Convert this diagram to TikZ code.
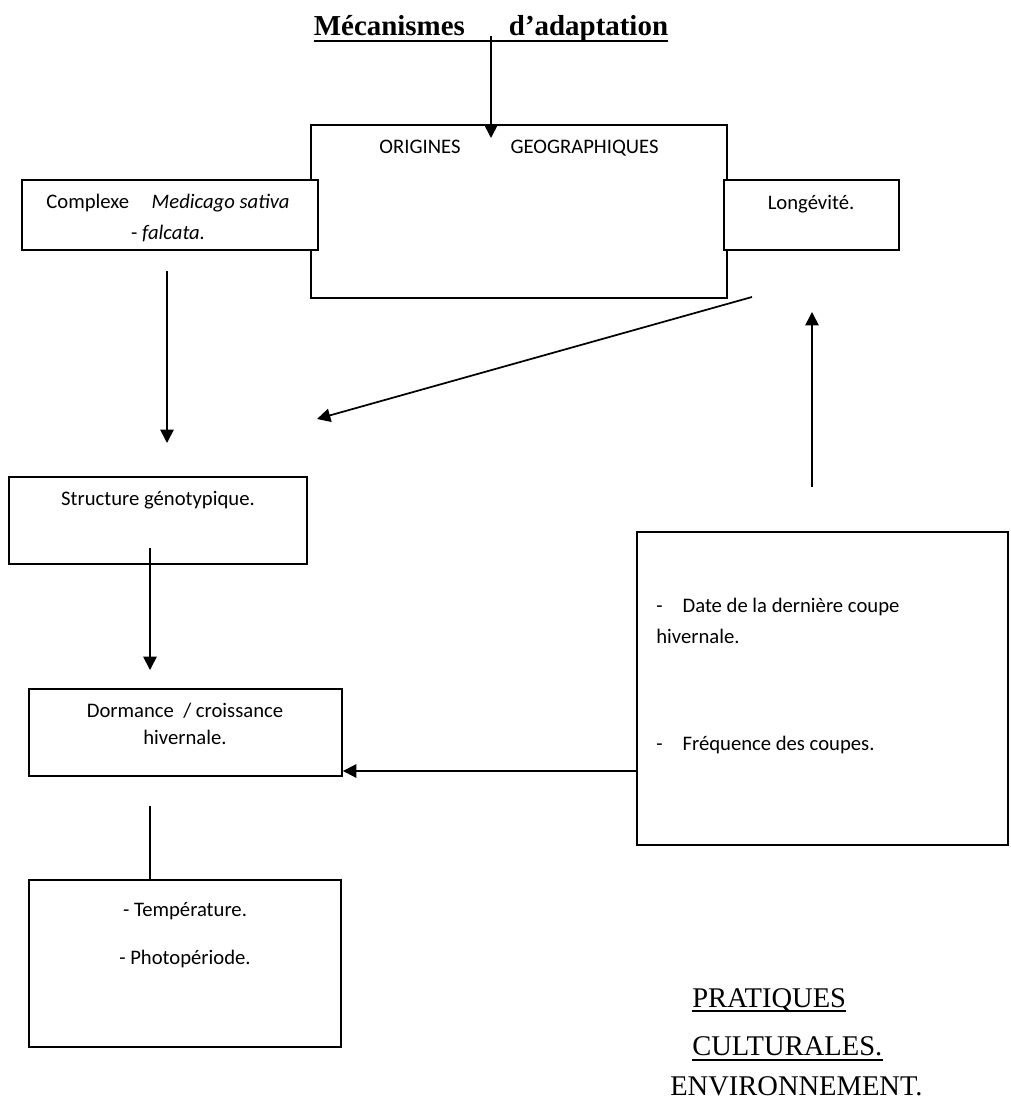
\documentclass[tikz,border=0pt]{standalone}
\usepackage{fontspec}
\setmainfont{Carlito}
\newfontfamily\serifface{Liberation Serif}
\usetikzlibrary{arrows.meta, fit, positioning}

\begin{document}
\begin{tikzpicture}[x=0.75pt, y=-0.75pt,
        box/.style={draw, line width=1.4pt, inner sep=0pt},
        txt/.style={inner sep=0pt, font=\fontsize{15.5pt}{22pt}\selectfont},
        lbl/.style={inner sep=0pt, font=\serifface\fontsize{21.4pt}{26pt}\selectfont},
        arr/.style={line width=1.3pt, -{Triangle[width=10pt, length=10pt]}},
        uline/.style={line width=1.5pt}]
        \useasboundingbox (0,0) rectangle (1010,1102);

        % Draw the title
        \node[inner sep=0pt, anchor=base, font=\serifface\bfseries\fontsize{21.7pt}{26pt}\selectfont] (title) at (491,36) {Mécanismes\hspace{33pt}d’adaptation};
        \draw[uline] ([yshift=-3.5pt]title.base west) -- ([yshift=-3.5pt]title.base east);

        % Draw the boxes
        \node[box, fit={(311,125) (727,298)}] (origines) {};
        \node[box, fill=white, fit={(22,180) (318,250)}] (complexe) {};
        \node[box, fill=white, fit={(724,180) (899,250)}] (longevite) {};
        \node[box, fit={(9,477) (307,564)}] (structure) {};
        \node[box, fit={(29,689) (342,776)}] (dormance) {};
        \node[box, fit={(637,532) (1008,845)}] (coupes) {};
        \node[box, fit={(29,880) (341,1047)}] (climat) {};

        % Write the texts in the boxes
        \node[txt, anchor=base] (origtxt) at (519,154) {ORIGINES\hspace{37.5pt}GEOGRAPHIQUES};
        \node[txt, anchor=base] (comptxt) at (168,208) {Complexe\hspace{17pt}\textit{Medicago sativa}};
        \node[txt, anchor=base] (comptxtb) at (168,239) {- \textit{falcata.}};
        \node[txt, anchor=base] (longtxt) at (811,209) {Longévité.};
        \node[txt, anchor=base] (structtxt) at (158,505) {Structure génotypique.};
        \node[txt, anchor=base] (dormtxt) at (185,717) {Dormance \ / croissance};
        \node[txt, anchor=base] (dormtxtb) at (185,744) {hivernale.};
        \node[txt, anchor=base west] (datetxt) at (656,612) {-\hspace{15pt}Date de la dernière coupe};
        \node[txt, anchor=base west] (datetxtb) at (656,643) {hivernale.};
        \node[txt, anchor=base west] (freqtxt) at (656,750) {-\hspace{15pt}Fréquence des coupes.};
        \node[txt, anchor=base] (temptxt) at (185,916) {- Température.};
        \node[txt, anchor=base] (phototxt) at (185,964) {- Photopériode.};

        % Labels at the bottom right
        \node[lbl, anchor=base west] (prat) at (692,1007) {PRATIQUES};
        \node[lbl, anchor=base west] (cult) at (692,1055) {CULTURALES.};
        \node[lbl, anchor=base west] (env) at (670,1095) {ENVIRONNEMENT.};
        \draw[uline] ([yshift=-3pt]prat.base west) -- ([yshift=-3pt]prat.base east);
        \draw[uline] ([yshift=-3.5pt]cult.base west) -- ([yshift=-3.5pt]cult.base east);

        % Free ends of the arrows
        \coordinate (titletip) at (491,138);
        \coordinate (leftfrom) at (167,271);
        \coordinate (leftto) at (167,443);
        \coordinate (diagfrom) at (752,297);
        \coordinate (diagto) at (317,419);
        \coordinate (upfrom) at (812,487);
        \coordinate (upto) at (812,312);
        \coordinate (structfrom) at (150,548);
        \coordinate (structto) at (150,670);
        \coordinate (coupey) at (0,771);
        \coordinate (climfrom) at (150,806);

        % Draw the arrows
        \draw[arr] (title.base) -- (titletip);
        \draw[arr] (leftfrom) -- (leftto);
        \draw[arr] (diagfrom) -- (diagto);
        \draw[arr] (upfrom) -- (upto);
        \draw[arr] (structfrom) -- (structto);
        \draw[arr] (coupes.west |- coupey) -- (dormance.east |- coupey);
        \draw[line width=1.3pt] (climfrom) -- (climfrom |- climat.north);
\end{tikzpicture}
\end{document}
